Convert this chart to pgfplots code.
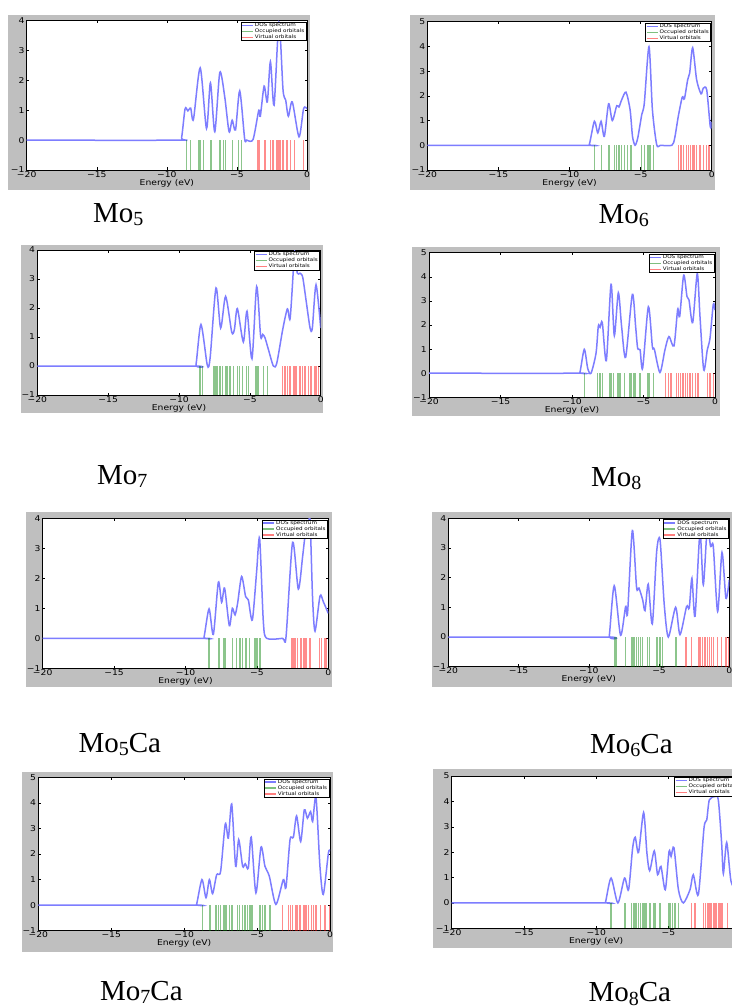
\documentclass[border=0pt]{standalone}
\usepackage{pgfplots}
\pgfplotsset{compat=1.18}
\usepackage{fontspec}
\setmainfont{Liberation Serif}
\newfontfamily\dvs[FakeStretch=1.15]{DejaVu Sans}
\newcommand\tf{\dvs\fontsize{8pt}{9pt}\selectfont}
\newcommand\lf{\dvs\fontsize{4.9pt}{5.6pt}\selectfont}
\newcommand\capf{\fontsize{29pt}{32pt}\selectfont}
\newcommand\sub[1]{{\fontsize{20pt}{20pt}\selectfont\raisebox{-3.5pt}{#1}}}
\definecolor{dosb}{RGB}{125,125,255}
\definecolor{occg}{RGB}{0,128,0}
\definecolor{virr}{RGB}{255,0,0}
\definecolor{figgrey}{RGB}{191,191,191}
\pgfplotsset{
 dos/.style={
  scale only axis, xmin=-20, xmax=0, ymin=-1,
  xtick={-20,-15,-10,-5,0}, xticklabels={−20,−15,−10,−5,0},
  axis background/.style={fill=white},
  axis line style={line width=0.5pt, black},
  tick style={line width=0.5pt, black},
  major tick length=2.5pt,
  tick align=inside,
  ticklabel style={font=\tf, inner sep=1pt},
  yticklabel style={xshift=-1pt},
  xlabel={Energy (eV)},
  xlabel style={font=\tf, inner sep=0.5pt},
  legend cell align=left,
  legend style={at={(0.997,0.992)}, anchor=north east, font=\lf, draw=black, line width=0.5pt, fill=white, inner xsep=0.5pt, inner ysep=0.3pt, row sep=0pt, nodes={inner xsep=1.2pt, inner ysep=0.4pt}},
 },
 y4/.style={ymax=4, ytick={-1,0,1,2,3,4}, yticklabels={−1,0,1,2,3,4}},
 y5/.style={ymax=5, ytick={-1,0,1,2,3,4,5}, yticklabels={−1,0,1,2,3,4,5}},
 dosl/.style={dosb, line width=1.5pt, smooth, tension=0.45, legend image code/.code={\draw[dosb, line width=1.4pt] (0pt,0pt)--(11pt,0pt);}},
 occ/.style={ycomb, draw=occg, draw opacity=0.45, line width=1.2pt, mark=none, legend image code/.code={\draw[occg, draw opacity=0.5, line width=1.4pt] (0pt,0pt)--(11pt,0pt);}},
 vir/.style={ycomb, draw=virr, draw opacity=0.45, line width=1.2pt, mark=none, legend image code/.code={\draw[virr, draw opacity=0.5, line width=1.4pt] (0pt,0pt)--(11pt,0pt);}},
}
\begin{document}
\begin{tikzpicture}
\useasboundingbox (0pt,0pt) rectangle (731pt,-1008pt);
\fill[white] (0pt,0pt) rectangle (731pt,-1008pt);
\fill[figgrey] (8.3pt,-15pt) rectangle (310pt,-190pt);
\fill[figgrey] (410pt,-15pt) rectangle (715pt,-190pt);
\fill[figgrey] (20.7pt,-245pt) rectangle (323.3pt,-413pt);
\fill[figgrey] (412pt,-246.7pt) rectangle (720pt,-416pt);
\fill[figgrey] (26pt,-512pt) rectangle (331.7pt,-686.7pt);
\fill[figgrey] (431.7pt,-512pt) rectangle (740pt,-686.7pt);
\fill[figgrey] (21.7pt,-771.7pt) rectangle (333pt,-951.7pt);
\fill[figgrey] (433.3pt,-769pt) rectangle (750pt,-948.3pt);

% Panel 1 Mo5
\begin{axis}[dos, y4, width=280.3pt, height=149.3pt, at={(26.7pt,-170pt)}, anchor=south west]
\addplot[dosl] coordinates {(-20,0) (-9.2,0) (-8.95,0.08) (-8.7,1.05) (-8.5,0.98) (-8.3,1.07) (-8.1,0.7) (-7.62,2.42) (-7.17,0.39) (-6.89,1.92) (-6.58,0.28) (-6.22,2.27) (-5.87,1.45) (-5.56,0.28) (-5.34,0.67) (-5.1,0.34) (-4.8,1.65) (-4.45,0.05) (-4.3,0) (-3.85,0.02) (-3.44,1.0) (-3.33,0.8) (-3.06,1.81) (-2.83,1.28) (-2.61,2.63) (-2.35,1.17) (-2.0,3.95) (-1.71,1.68) (-1.52,1.34) (-1.33,0.8) (-1.05,1.28) (-0.57,0.11) (-0.24,1.06) (0,1.05)};
\addplot[occ] coordinates {(-8.6,-1) (-8.29,-1) (-7.7,-1) (-7.58,-1) (-7.41,-1) (-6.89,-1) (-6.79,-1) (-6.27,-1) (-6.18,-1) (-5.94,-1) (-5.8,-1) (-5.34,-1) (-4.87,-1) (-4.68,-1)};
\addplot[vir] coordinates {(-3.49,-1) (-3.37,-1) (-3.06,-1) (-2.95,-1) (-2.61,-1) (-2.42,-1) (-2.19,-1) (-2.11,-1) (-2.04,-1) (-1.97,-1) (-1.9,-1) (-1.71,-1) (-1.43,-1) (-1.19,-1) (-0.88,-1) (-0.24,-1)};
\legend{DOS spectrum, Occupied orbitals, Virtual orbitals}
\end{axis}

% Panel 2 Mo6
\begin{axis}[dos, y5, width=284.4pt, height=148.3pt, at={(427.3pt,-170pt)}, anchor=south west]
\addplot[dosl] coordinates {(-20,0) (-8.8,0) (-8.6,0.05) (-8.25,0.97) (-8.01,0.5) (-7.78,0.97) (-7.55,0.36) (-7.25,1.68) (-6.99,1.0) (-6.68,1.6) (-6.52,1.55) (-6.33,1.84) (-6.03,2.15) (-5.74,1.44) (-5.57,0.36) (-5.39,0.0) (-5.2,0.3) (-4.92,1.24) (-4.74,1.7) (-4.41,3.99) (-4.17,1.44) (-3.87,0.03) (-3.6,0) (-2.8,0) (-2.6,0.3) (-2.35,1.17) (-2.07,1.95) (-1.92,1.88) (-1.69,2.65) (-1.55,2.92) (-1.34,3.95) (-1.06,2.65) (-0.75,2.08) (-0.59,2.31) (-0.35,2.24) (-0.1,0.75) (0,0.95)};
\addplot[occ] coordinates {(-8.25,-1) (-7.74,-1) (-7.27,-1) (-7.2,-1) (-6.85,-1) (-6.68,-1) (-6.52,-1) (-6.33,-1) (-6.14,-1) (-5.93,-1) (-5.67,-1) (-4.92,-1) (-4.74,-1) (-4.5,-1) (-4.41,-1) (-4.34,-1) (-4.1,-1)};
\addplot[vir] coordinates {(-2.34,-1) (-2.16,-1) (-1.99,-1) (-1.76,-1) (-1.64,-1) (-1.48,-1) (-1.36,-1) (-1.29,-1) (-1.22,-1) (-1.06,-1) (-0.82,-1) (-0.59,-1) (-0.35,-1) (-0.19,-1)};
\legend{DOS spectrum, Occupied orbitals, Virtual orbitals}
\end{axis}

% Panel 3 Mo7
\begin{axis}[dos, y4, width=283.4pt, height=145pt, at={(37.3pt,-395pt)}, anchor=south west]
\addplot[dosl] coordinates {(-20,0) (-9.0,0) (-8.8,0.05) (-8.45,1.43) (-8.0,0.02) (-7.8,0.3) (-7.39,2.69) (-7.06,1.31) (-6.71,2.4) (-6.28,1.17) (-6.09,1.26) (-5.88,1.98) (-5.46,0.83) (-5.2,1.89) (-4.85,0.25) (-4.52,2.74) (-4.24,1.03) (-4.09,1.09) (-3.93,0.97) (-3.69,0.57) (-3.34,0) (-3.1,0.1) (-2.68,1.26) (-2.35,1.97) (-2.16,1.63) (-1.93,3.31) (-1.84,3.94) (-1.65,3.2) (-1.46,3.2) (-1.27,3.06) (-1.04,2.29) (-0.75,1.31) (-0.59,1.31) (-0.33,2.8) (0,1.31)};
\addplot[occ] coordinates {(-8.52,-1) (-8.33,-1) (-7.53,-1) (-7.39,-1) (-7.29,-1) (-7.11,-1) (-6.92,-1) (-6.68,-1) (-6.59,-1) (-6.4,-1) (-6.16,-1) (-5.88,-1) (-5.74,-1) (-5.51,-1) (-5.22,-1) (-5.11,-1) (-4.56,-1) (-4.47,-1) (-4.4,-1) (-4.05,-1) (-3.74,-1)};
\addplot[vir] coordinates {(-2.68,-1) (-2.52,-1) (-2.35,-1) (-2.16,-1) (-1.93,-1) (-1.81,-1) (-1.69,-1) (-1.51,-1) (-1.41,-1) (-1.27,-1) (-1.11,-1) (-0.87,-1) (-0.68,-1) (-0.4,-1) (-0.28,-1) (-0.16,-1)};
\legend{DOS spectrum, Occupied orbitals, Virtual orbitals}
\end{axis}

% Panel 4 Mo8
\begin{axis}[dos, y5, width=286pt, height=144.6pt, at={(429pt,-397.3pt)}, anchor=south west]
\addplot[dosl] coordinates {(-20,0) (-9.6,0) (-9.44,0.05) (-9.14,0.99) (-8.9,0.2) (-8.67,0) (-8.32,0.83) (-8.16,1.96) (-8.04,1.9) (-7.88,2.1) (-7.6,0.52) (-7.27,3.69) (-7.04,1.56) (-6.76,3.34) (-6.53,1.93) (-6.25,0.66) (-5.78,3.27) (-5.55,1.93) (-5.41,1.04) (-5.24,0.97) (-5.06,0.21) (-4.66,2.76) (-4.38,1.1) (-4.24,0.99) (-3.85,0.03) (-3.5,0.97) (-3.22,1.52) (-2.87,1.13) (-2.61,2.65) (-2.47,2.35) (-2.19,4.07) (-1.96,3.18) (-1.82,3.04) (-1.56,2.1) (-1.24,4.14) (-1.05,2.35) (-0.79,0.14) (-0.54,0.97) (-0.35,1.45) (-0.12,2.86) (0,2.62)};
\addplot[occ] coordinates {(-9.14,-1) (-8.2,-1) (-8.04,-1) (-7.88,-1) (-7.34,-1) (-7.23,-1) (-7.11,-1) (-6.83,-1) (-6.71,-1) (-6.6,-1) (-6.34,-1) (-5.94,-1) (-5.83,-1) (-5.71,-1) (-5.59,-1) (-5.24,-1) (-4.71,-1) (-4.62,-1) (-4.31,-1)};
\addplot[vir] coordinates {(-3.45,-1) (-3.26,-1) (-3.08,-1) (-2.68,-1) (-2.56,-1) (-2.42,-1) (-2.24,-1) (-2.05,-1) (-1.93,-1) (-1.75,-1) (-1.56,-1) (-1.35,-1) (-1.24,-1) (-1.14,-1) (-0.54,-1) (-0.35,-1) (-0.12,-1)};
\legend{DOS spectrum, Occupied orbitals, Virtual orbitals}
\end{axis}

% Panel 5 Mo5Ca
\begin{axis}[dos, y4, width=285.6pt, height=150pt, at={(42.7pt,-668.3pt)}, anchor=south west]
\addplot[dosl] coordinates {(-20,0) (-8.9,0) (-8.7,0.05) (-8.35,0.98) (-8.05,0.13) (-7.7,1.87) (-7.47,1.2) (-7.26,1.67) (-6.93,0.42) (-6.72,1.0) (-6.53,0.78) (-6.35,1.17) (-6.07,2.06) (-5.79,1.39) (-5.6,1.28) (-5.32,0.61) (-5.02,2.22) (-4.81,3.33) (-4.55,0.56) (-4.32,0) (-3.2,0) (-2.96,0.05) (-2.5,3.2) (-2.1,1.64) (-1.8,2.72) (-1.63,3.4) (-1.45,3.6) (-1.28,3.95) (-1.1,1.33) (-0.93,0.24) (-0.58,1.41) (-0.35,1.22) (0,0.83)};
\addplot[occ] coordinates {(-8.35,-1) (-7.7,-1) (-7.63,-1) (-7.3,-1) (-7.19,-1) (-6.72,-1) (-6.42,-1) (-6.18,-1) (-6.02,-1) (-5.76,-1) (-5.53,-1) (-5.13,-1) (-5.06,-1) (-4.97,-1) (-4.78,-1)};
\addplot[vir] coordinates {(-2.57,-1) (-2.5,-1) (-2.4,-1) (-2.33,-1) (-2.15,-1) (-1.91,-1) (-1.75,-1) (-1.63,-1) (-1.52,-1) (-1.33,-1) (-1.24,-1) (-0.63,-1) (-0.47,-1) (-0.23,-1) (-0.12,-1)};
\legend{DOS spectrum, Occupied orbitals, Virtual orbitals}
\end{axis}

% Panel 6 Mo6Ca
\begin{axis}[dos, y4, width=281pt, height=148.4pt, at={(448.3pt,-666.7pt)}, anchor=south west]
\addplot[dosl] coordinates {(-20,0) (-8.7,0) (-8.54,0.05) (-8.19,1.73) (-7.74,0.06) (-7.38,1.03) (-7.24,0.81) (-6.9,3.59) (-6.6,1.67) (-6.43,1.65) (-6.17,1.26) (-6.0,0.89) (-5.77,1.78) (-5.48,0.44) (-5.17,2.88) (-4.93,3.27) (-4.63,1.09) (-4.34,0) (-3.82,1.0) (-3.51,0.08) (-3.04,1.03) (-2.85,0.98) (-2.66,1.98) (-2.44,0.7) (-2.09,3.5) (-1.85,1.76) (-1.57,3.67) (-1.33,3.05) (-1.14,3.05) (-0.83,0.86) (-0.52,2.85) (-0.24,1.31) (0,1.93)};
\addplot[occ] coordinates {(-8.19,-1) (-8.07,-1) (-7.38,-1) (-6.95,-1) (-6.88,-1) (-6.78,-1) (-6.6,-1) (-6.48,-1) (-6.31,-1) (-6.17,-1) (-5.81,-1) (-5.69,-1) (-5.17,-1) (-5.1,-1) (-4.98,-1) (-4.89,-1) (-4.77,-1) (-3.8,-1)};
\addplot[vir] coordinates {(-3.08,-1) (-2.68,-1) (-2.21,-1) (-2.09,-1) (-1.9,-1) (-1.73,-1) (-1.57,-1) (-1.42,-1) (-1.26,-1) (-1.14,-1) (-0.83,-1) (-0.55,-1) (-0.24,-1) (-0.07,-1)};
\legend{DOS spectrum, Occupied orbitals, Virtual orbitals}
\end{axis}

% Panel 7 Mo7Ca
\begin{axis}[dos, y5, width=291.7pt, height=153.4pt, at={(38.3pt,-930.7pt)}, anchor=south west]
\addplot[dosl] coordinates {(-20,0) (-9.3,0) (-9.14,0.05) (-8.78,1.0) (-8.5,0.29) (-8.27,1.0) (-8.05,0.45) (-7.77,1.19) (-7.5,1.32) (-7.18,3.18) (-6.97,2.62) (-6.74,3.96) (-6.47,1.52) (-6.26,2.56) (-5.99,1.52) (-5.81,1.62) (-5.6,1.45) (-5.4,2.66) (-5.08,0.48) (-4.73,2.27) (-4.46,1.52) (-4.16,1.13) (-3.71,0.03) (-3.2,1.0) (-3.02,0.68) (-2.74,2.56) (-2.51,2.66) (-2.29,3.49) (-2.01,2.49) (-1.76,3.73) (-1.55,3.4) (-1.33,3.66) (-1.19,3.27) (-0.96,4.22) (-0.69,1.52) (-0.46,0.42) (-0.11,2.04) (0,2.1)};
\addplot[occ] coordinates {(-8.73,-1) (-8.23,-1) (-7.82,-1) (-7.66,-1) (-7.5,-1) (-7.27,-1) (-7.18,-1) (-7.09,-1) (-6.9,-1) (-6.74,-1) (-6.67,-1) (-6.35,-1) (-6.21,-1) (-5.99,-1) (-5.83,-1) (-5.67,-1) (-5.49,-1) (-5.37,-1) (-5.3,-1) (-4.8,-1) (-4.64,-1) (-4.46,-1) (-4.11,-1)};
\addplot[vir] coordinates {(-3.25,-1) (-2.86,-1) (-2.7,-1) (-2.56,-1) (-2.33,-1) (-2.22,-1) (-2.06,-1) (-1.78,-1) (-1.65,-1) (-1.49,-1) (-1.26,-1) (-1.14,-1) (-1.01,-1) (-0.91,-1) (-0.64,-1) (-0.34,-1) (-0.05,-1)};
\legend{DOS spectrum, Occupied orbitals, Virtual orbitals}
\end{axis}

% Panel 8 Mo8Ca
\begin{axis}[dos, y5, width=289pt, height=152.3pt, at={(451.7pt,-928.3pt)}, anchor=south west]
\addplot[dosl] coordinates {(-20,0) (-9.5,0) (-9.35,0.05) (-8.97,0.98) (-8.5,0) (-8.04,0.98) (-7.76,0.52) (-7.48,2.16) (-7.3,2.59) (-7.07,1.99) (-6.72,3.56) (-6.49,1.96) (-6.3,1.27) (-5.98,2.05) (-5.75,1.11) (-5.52,1.44) (-5.22,0.52) (-4.96,2.03) (-4.82,1.83) (-4.62,2.18) (-4.31,0.52) (-3.97,0) (-3.51,0.52) (-3.28,1.11) (-2.93,0.33) (-2.54,2.95) (-2.35,3.27) (-2.17,4.06) (-1.78,4.19) (-1.55,4.06) (-1.32,2.36) (-1.2,1.15) (-0.97,2.38) (-0.67,0.85) (-0.3,0.6) (0,1.0)};
\addplot[occ] coordinates {(-8.98,-1) (-8.01,-1) (-7.55,-1) (-7.43,-1) (-7.32,-1) (-7.2,-1) (-7.09,-1) (-6.93,-1) (-6.81,-1) (-6.69,-1) (-6.56,-1) (-6.28,-1) (-6.05,-1) (-5.93,-1) (-5.63,-1) (-5.54,-1) (-4.96,-1) (-4.89,-1) (-4.71,-1) (-4.55,-1) (-4.32,-1)};
\addplot[vir] coordinates {(-3.39,-1) (-3.16,-1) (-2.58,-1) (-2.42,-1) (-2.31,-1) (-2.19,-1) (-2.08,-1) (-2.01,-1) (-1.89,-1) (-1.78,-1) (-1.66,-1) (-1.5,-1) (-1.36,-1) (-1.25,-1) (-0.92,-1)};
\legend{DOS spectrum, Occupied orbitals, Virtual orbitals}
\end{axis}

% Captions
\node[anchor=base west, inner sep=0pt, font=\capf] at (93pt,-222.3pt) {Mo\sub{5}};
\node[anchor=base west, inner sep=0pt, font=\capf] at (598.3pt,-223pt) {Mo\sub{6}};
\node[anchor=base west, inner sep=0pt, font=\capf] at (97pt,-484pt) {Mo\sub{7}};
\node[anchor=base west, inner sep=0pt, font=\capf] at (591pt,-486pt) {Mo\sub{8}};
\node[anchor=base west, inner sep=0pt, font=\capf] at (78.3pt,-752.3pt) {Mo\sub{5}Ca};
\node[anchor=base west, inner sep=0pt, font=\capf] at (590pt,-753pt) {Mo\sub{6}Ca};
\node[anchor=base west, inner sep=0pt, font=\capf] at (100pt,-1000pt) {Mo\sub{7}Ca};
\node[anchor=base west, inner sep=0pt, font=\capf] at (588.3pt,-1001.7pt) {Mo\sub{8}Ca};
\end{tikzpicture}
\end{document}
